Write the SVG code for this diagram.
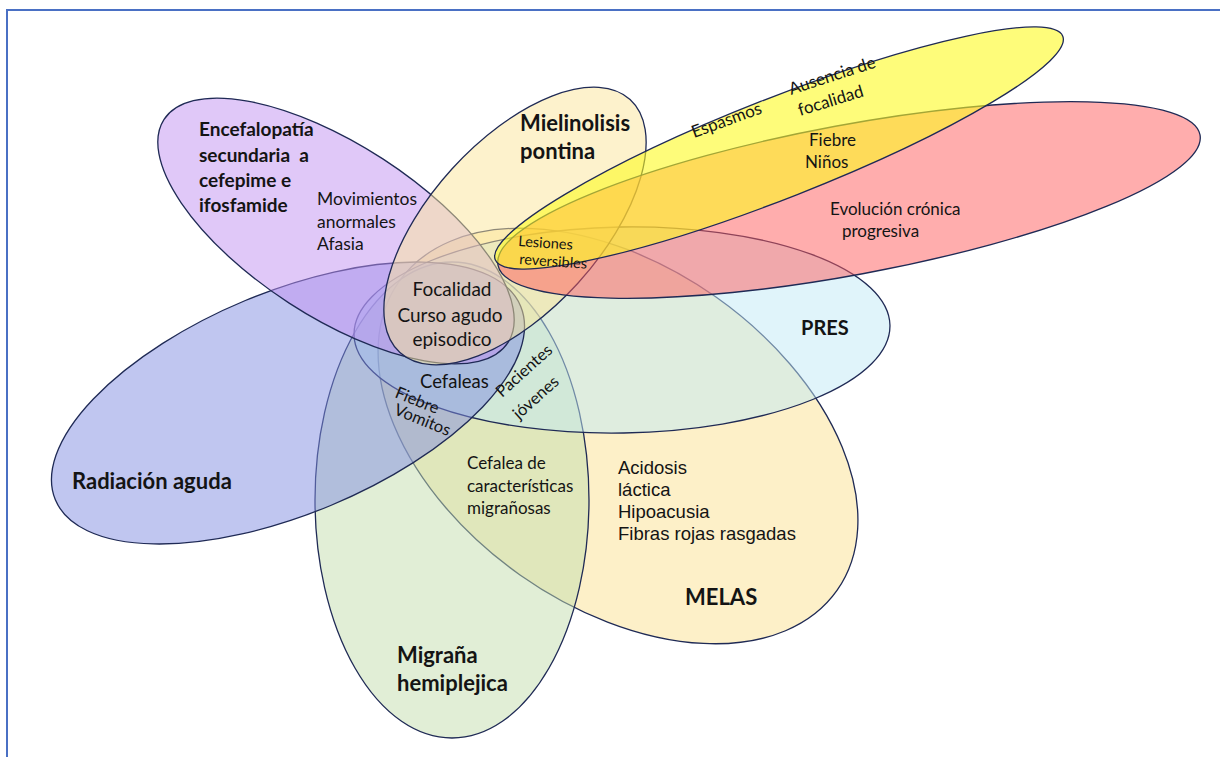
<svg xmlns="http://www.w3.org/2000/svg" width="1220" height="757" viewBox="0 0 1220 757">
  <style>
    .sh { stroke:#1f2a55; stroke-width:1.3; fill-opacity:0.5; }
    .t { font-family: Lato, "Liberation Sans", sans-serif; fill:#141414; font-size:17px; }
    .b { font-weight:bold; font-size:22px; }
    .a { font-family: "Liberation Sans", Arial, sans-serif; fill:#141414; font-size:18.5px; }
    .frame { stroke:#4a70c4; stroke-width:2; fill:none; }
  </style>
  <rect width="1220" height="757" fill="#ffffff"/>
  <path class="frame" d="M7 757 V10 H1220"/>

  <g id="node-melas">
    <ellipse class="sh" cx="618" cy="436" rx="268" ry="170" transform="rotate(35.2 618 436)" fill="#fbe191"/>
    <text class="t b" x="685" y="605">MELAS</text>
    <text class="a" x="618" y="474">Acidosis</text>
    <text class="a" x="618" y="496">láctica</text>
    <text class="a" x="618" y="518">Hipoacusia</text>
    <text class="a" x="618" y="540">Fibras rojas rasgadas</text>
  </g>
  <g id="node-migrana">
    <ellipse class="sh" cx="452" cy="500" rx="137" ry="238" fill="#c3ddad"/>
    <text class="t b" x="397" y="663">Migraña</text>
    <text class="t b" x="397" y="691">hemiplejica</text>
  </g>
  <g id="node-pres">
    <ellipse class="sh" cx="622" cy="330" rx="268" ry="103" transform="rotate(-1 622 330)" fill="#c1e9f5"/>
    <text class="t b" x="801" y="335" style="font-size:20px">PRES</text>
  </g>
  <g id="node-radiacion">
    <ellipse class="sh" cx="288" cy="403" rx="252" ry="111" transform="rotate(-22.6 288 403)" fill="#818de1"/>
    <text class="t b" x="72" y="489">Radiación aguda</text>
  </g>
  <g id="node-encefalopatia">
    <ellipse class="sh" cx="336" cy="231" rx="205" ry="86" transform="rotate(33 336 231)" fill="#c191f1"/>
    <text class="t b" x="199" y="136" style="font-size:19px">Encefalopatía</text>
    <text class="t b" x="199" y="162" style="font-size:19px;white-space:pre">secundaria  a</text>
    <text class="t b" x="199" y="187" style="font-size:19px">cefepime e</text>
    <text class="t b" x="199" y="212" style="font-size:19px">ifosfamide</text>
    <text class="t" x="317" y="205" style="font-size:17.5px">Movimientos</text>
    <text class="t" x="317" y="228" style="font-size:17.5px">anormales</text>
    <text class="t" x="317" y="250" style="font-size:17.5px">Afasia</text>
  </g>
  <g id="node-mielinolisis">
    <ellipse class="sh" cx="515" cy="226" rx="171" ry="85" transform="rotate(-47.7 515 226)" fill="#fbe599"/>
    <text class="t b" x="520" y="131">Mielinolisis</text>
    <text class="t b" x="520" y="159">pontina</text>
  </g>
  <g id="node-evolucion">
    <ellipse class="sh" cx="849" cy="200" rx="357" ry="75" transform="rotate(-10.5 849 200)" fill="#ff5b5b"/>
    <text class="t" x="830" y="215">Evolución crónica</text>
    <text class="t" x="842" y="237">progresiva</text>
  </g>
  <g id="node-espasmos">
    <ellipse class="sh" cx="779" cy="148" rx="305" ry="50" transform="rotate(-21.5 779 148)" fill="#fdfa21" style="fill-opacity:0.6"/>
    <text class="t" x="694" y="138" transform="rotate(-20 694 138)">Espasmos</text>
    <text class="t" x="791" y="95" transform="rotate(-18 791 95)">Ausencia de</text>
    <text class="t" x="800" y="116" transform="rotate(-17 800 116)">focalidad</text>
  </g>

  <g id="overlap-labels">
    <text class="t" x="809" y="146">Fiebre</text>
    <text class="t" x="805" y="168">Niños</text>
    <text class="t" x="518" y="246" style="font-size:14.5px" transform="rotate(4 518 246)">Lesiones</text>
    <text class="t" x="519" y="264" style="font-size:14.5px" transform="rotate(4 519 264)">reversibles</text>
    <text class="t" x="452" y="296" text-anchor="middle" style="font-size:19px">Focalidad</text>
    <text class="t" x="450" y="322" text-anchor="middle" style="font-size:19px">Curso agudo</text>
    <text class="t" x="452" y="346" text-anchor="middle" style="font-size:19px">episodico</text>
    <text class="t" x="420" y="388" style="font-size:18.5px">Cefaleas</text>
    <text class="t" x="394" y="397" style="font-size:16.5px" transform="rotate(22 394 397)">Fiebre</text>
    <text class="t" x="393" y="414" style="font-size:16.5px" transform="rotate(22 393 414)">Vomitos</text>
    <text class="t" x="502" y="398" style="font-size:16.5px" transform="rotate(-42 502 398)">Pacientes</text>
    <text class="t" x="519" y="420" style="font-size:16.5px" transform="rotate(-42 519 420)">jóvenes</text>
    <text class="t" x="467" y="469">Cefalea de</text>
    <text class="t" x="467" y="492">características</text>
    <text class="t" x="467" y="514">migrañosas</text>
  </g>
</svg>
